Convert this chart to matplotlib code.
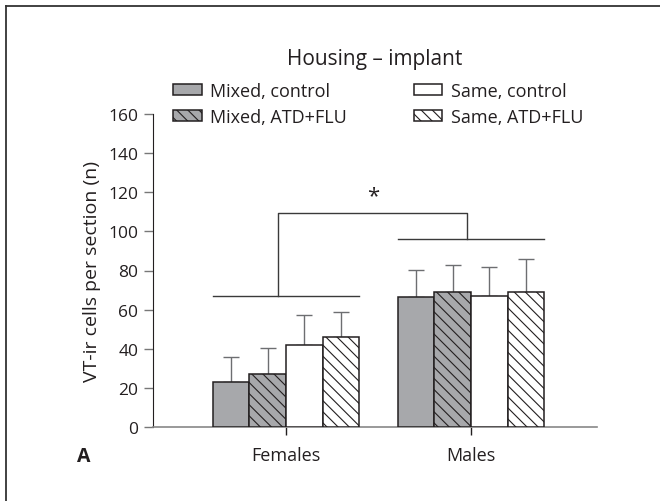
import numpy as np
import matplotlib
matplotlib.use('Agg')
import matplotlib.pyplot as plt
from matplotlib.lines import Line2D

groups = ['Females', 'Males']
labels = ['Mixed, control', 'Mixed, ATD+FLU', 'Same, control', 'Same, ATD+FLU']
mixed_control = [23, 66.5]
mixed_atd = [27, 69.2]
same_control = [42, 66.8]
same_atd = [46, 69.2]
err_mixed_control = [12.6, 13.9]
err_mixed_atd = [13.2, 13.6]
err_same_control = [15.3, 15.2]
err_same_atd = [13.0, 16.8]

plt.rcParams['font.family'] = ['Open Sans', 'DejaVu Sans']
plt.rcParams['hatch.linewidth'] = 0.8

fig = plt.figure(figsize=(6.6, 5.02), dpi=100)
ax = fig.add_axes([153/660, 1-428/502, (597-153)/660, (428-115)/502])

x = np.arange(len(groups))
w = 0.198
dark = '#231f20'
gray = '#a7a8ab'
errc = '#6d6e71'
series = [mixed_control, mixed_atd, same_control, same_atd]
errs = [err_mixed_control, err_mixed_atd, err_same_control, err_same_atd]
fills = [gray, gray, 'white', 'white']
hatches = ['', '\\\\\\', '', '\\\\\\']

for i, (vals, e, fc, h) in enumerate(zip(series, errs, fills, hatches)):
    pos = x + (i - 1.5) * w
    ax.bar(pos, vals, w, color=fc, edgecolor=dark, linewidth=1.1, hatch=h,
           label=labels[i], zorder=3)
    ax.errorbar(pos, vals, yerr=[np.zeros(len(e)), e], fmt='none', ecolor=errc,
                elinewidth=1.0, capsize=5.8, capthick=1.0, zorder=2)

# significance brackets
lc = '#3a3a3a'
ax.plot([-2*w, 2*w], [67, 67], color=lc, lw=1.0)
ax.plot([1-2*w, 1+2*w], [96, 96], color=lc, lw=1.0)
ax.plot([-0.045, -0.045, 0.98, 0.98], [67, 109.4, 109.4, 96], color=lc, lw=1.0)
ax.text(0.47, 118, '*', ha='center', va='center', fontsize=16, color=dark)

ax.set_xlim(-0.719, 1.681)
ax.set_ylim(0, 160)
ax.set_yticks(np.arange(0, 161, 20))
ax.set_xticks(x)
ax.set_xticklabels(groups)
ax.tick_params(axis='y', direction='out', length=6.5, width=1.0, color='#777777',
               labelsize=12.5, labelcolor=dark, pad=4)
ax.tick_params(axis='x', direction='out', length=6, width=1.0, color=dark,
               labelsize=13, labelcolor=dark, pad=8)
for s in ['top', 'right']:
    ax.spines[s].set_visible(False)
ax.spines['left'].set_color(dark)
ax.spines['left'].set_bounds(0, 160)
ax.spines['bottom'].set_color('#888888')
ax.spines['bottom'].set_linewidth(1.2)
ax.set_ylabel('VT-ir cells per section (n)', fontsize=14, color=dark, labelpad=5)

fig.text(375/660, 1-60/502, 'Housing \u2013 implant', fontsize=15, color=dark,
         ha='center', va='center')

leg = fig.legend(ncol=2, loc='upper left', bbox_to_anchor=(173/660, 1-83/502),
                 frameon=False, fontsize=13, handlelength=1.6, handleheight=0.55,
                 columnspacing=3.7, labelspacing=0.45, handletextpad=0.45,
                 borderpad=0, borderaxespad=0)
for t in leg.get_texts():
    t.set_color(dark)

fig.text(84/660, 1-457/502, 'A', fontsize=14, fontweight='bold', ha='center', va='center', color=dark)

fig.add_artist(Line2D([6/660, 6/660], [0, 1-7/502], color='#333333', lw=1.3))
fig.add_artist(Line2D([6/660, 1], [1-7/502, 1-7/502], color='#333333', lw=1.3))

fig.savefig('out.png', dpi=100)
